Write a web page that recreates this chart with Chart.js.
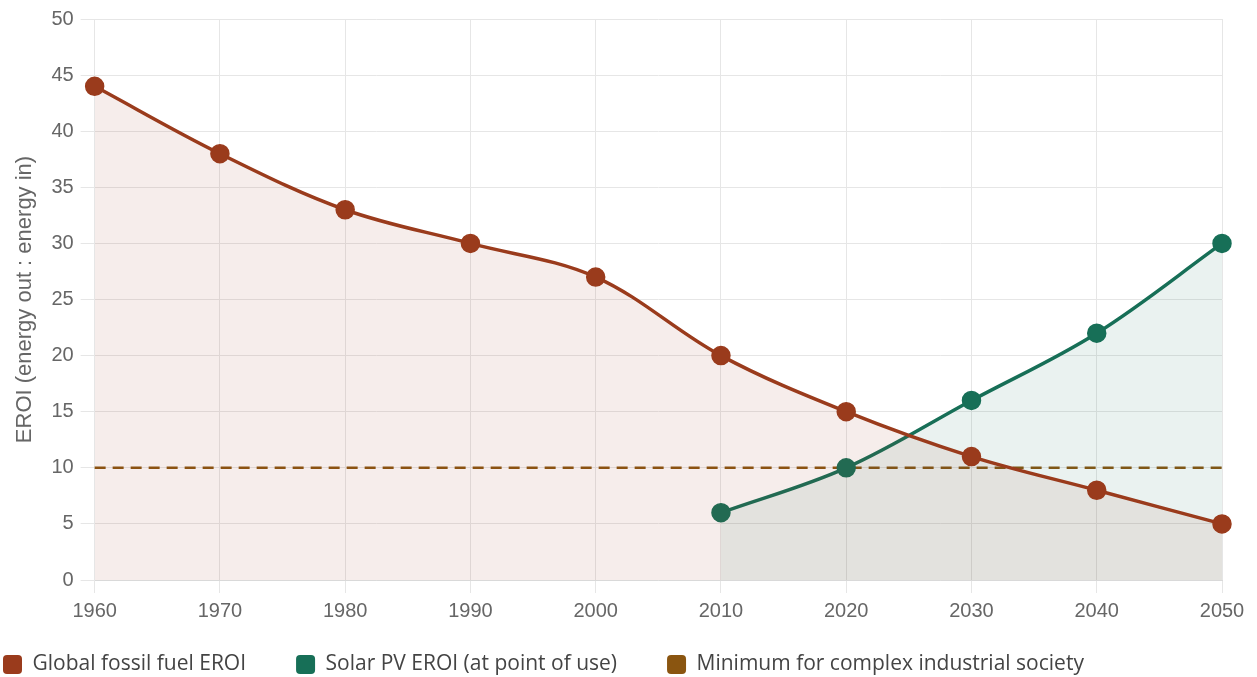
<!DOCTYPE html>
<html>
<head>
<meta charset="utf-8">
<script src="https://cdn.jsdelivr.net/npm/chart.js@4"></script>
<style>
  html, body { margin: 0; padding: 0; background: #fff; }
  #wrap { width: 1257px; height: 677px; }
</style>
</head>
<body>
<div id="wrap"><canvas id="c" width="1257" height="677"></canvas></div>
<script>
const years = ['1960','1970','1980','1990','2000','2010','2020','2030','2040','2050'];
const fossilEroi = [44, 38, 33, 30, 27, 20, 15, 11, 8, 5];
const solarEroi = [null, null, null, null, null, 6, 10, 16, 22, 30];
const minimumEroi = [10, 10, 10, 10, 10, 10, 10, 10, 10, 10];

const seriesNames = [
  'Global fossil fuel EROI',
  'Solar PV EROI (at point of use)',
  'Minimum for complex industrial society'
];

const FOSSIL = '#9a3b1c';
const SOLAR = '#176f57';
const MINIMUM = '#8a5510';

const LEGEND_GAP = 50;

// Keep the wide spacing between legend entries, but pin the row to the
// bottom-left corner instead of reserving the extra vertical room.
const legendPlacement = {
  id: 'legendPlacement',
  afterLayout(chart) {
    const lg = chart.legend;
    if (!lg) return;
    lg.left = 3 - LEGEND_GAP;
    lg.top = 654 - LEGEND_GAP;
  }
};

new Chart(document.getElementById('c'), {
  type: 'line',
  data: {
    labels: years,
    datasets: [
      {
        label: seriesNames[0],
        data: fossilEroi,
        borderColor: FOSSIL,
        backgroundColor: FOSSIL,
        fill: { target: 'origin', above: 'rgba(154,59,28,0.09)' },
        borderWidth: 3.5,
        pointRadius: 9,
        pointBorderWidth: 1.5,
        pointHoverRadius: 9,
        pointBackgroundColor: FOSSIL,
        pointBorderColor: FOSSIL,
        tension: 0.35
      },
      {
        label: seriesNames[1],
        data: solarEroi,
        borderColor: SOLAR,
        backgroundColor: SOLAR,
        fill: { target: 'origin', above: 'rgba(23,111,87,0.09)' },
        borderWidth: 3.5,
        pointRadius: 9,
        pointBorderWidth: 1.5,
        pointHoverRadius: 9,
        pointBackgroundColor: SOLAR,
        pointBorderColor: SOLAR,
        tension: 0.35
      },
      {
        label: seriesNames[2],
        data: minimumEroi,
        borderColor: MINIMUM,
        backgroundColor: MINIMUM,
        borderWidth: 2.5,
        borderDash: [11, 7],
        pointRadius: 0,
        fill: false
      }
    ]
  },
  plugins: [legendPlacement],
  options: {
    responsive: false,
    animation: false,
    layout: { padding: { left: 12, right: 35, top: 18, bottom: 0 } },
    scales: {
      x: {
        grid: { color: '#e6e6e6', tickLength: 13 },
        border: { color: '#d9d9d9' },
        ticks: { color: '#666', padding: 6, font: { family: 'Liberation Sans', size: 20 }, maxRotation: 0 }
      },
      y: {
        min: 0, max: 50,
        ticks: { stepSize: 5, color: '#666', padding: 7, font: { family: 'Liberation Sans', size: 20 } },
        grid: { color: '#e6e6e6', tickLength: 14 },
        border: { color: '#e6e6e6' },
        title: {
          display: true,
          text: 'EROI (energy out : energy in)',
          color: '#666',
          padding: { top: 0, bottom: 6 },
          font: { family: 'Liberation Sans', size: 22 }
        }
      }
    },
    plugins: {
      legend: {
        position: 'bottom',
        align: 'start',
        maxHeight: 48,
        labels: {
          color: '#444',
          boxWidth: 19,
          boxHeight: 19,
          useBorderRadius: true,
          borderRadius: 4,
          padding: LEGEND_GAP,
          font: { family: 'Open Sans', size: 21 },
          generateLabels(chart) {
            return chart.data.datasets.map((ds, i) => ({
              text: ds.label,
              fillStyle: ds.borderColor,
              strokeStyle: ds.borderColor,
              lineWidth: 0,
              borderRadius: 4,
              datasetIndex: i,
              hidden: false,
              fontColor: '#444'
            }));
          }
        }
      },
      tooltip: { enabled: false }
    }
  }
});
</script>
</body>
</html>
